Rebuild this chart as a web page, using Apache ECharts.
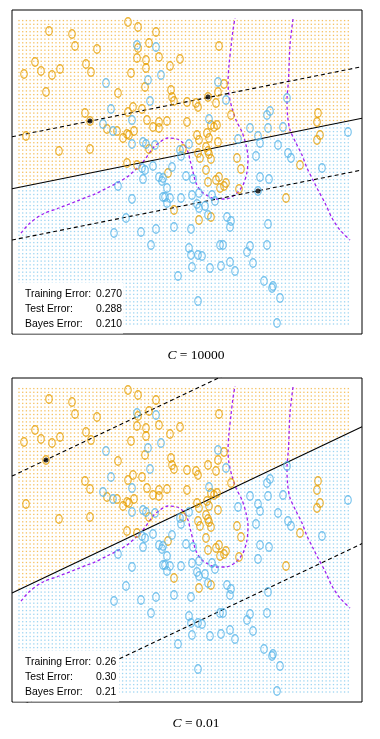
<!DOCTYPE html>
<html><head><meta charset="utf-8">
<script src="https://cdn.jsdelivr.net/npm/echarts@6/dist/echarts.min.js"></script>
<style>html,body{margin:0;padding:0;background:#fff}#c{width:380px;height:739px}</style>
</head><body><div id="c"></div>
<script>
// Training data (same in both panels), units: x 0..350, y 0..324
const orangePts = [[116,312],[126,307],[37,303],[60,300],[144,302],[63,288],[85,285],[137,291],[126,286],[125,276],
[134,274],[147,277],[168,275],[23,272],[29,263],[12,260],[40,259],[48,265],[74,270],[79,262],
[119,261],[134,266],[158,268],[34,242],[106,241],[133,247],[159,244],[160,237],[162,233],[73,221],
[121,227],[130,225],[116,222],[175,232],[207,288],[212,250],[206,242],[196,237],[184,231],[186,227],
[204,231],[219,219],[306,221],[14,198],[47,183],[78,185],[95,205],[105,203],[111,196],[115,200],
[117,199],[122,203],[135,214],[147,212],[141,207],[147,206],[155,213],[175,212],[137,185],[115,171],
[125,169],[171,185],[156,161],[162,124],[199,209],[202,207],[205,209],[185,199],[187,194],[195,201],
[197,196],[206,192],[194,187],[196,183],[186,181],[188,176],[197,180],[199,175],[225,176],[229,165],
[194,164],[196,152],[204,154],[207,157],[208,146],[212,148],[214,151],[227,145],[288,169],[305,212],
[308,199],[305,194],[274,136],[187,114],[199,117],[78,213]];
const bluePts = [[125,289],[144,287],[94,251],[136,254],[149,259],[138,233],[99,225],[206,252],[214,234],[275,236],
[258,223],[255,219],[197,215],[91,210],[101,203],[120,214],[120,190],[131,192],[134,190],[143,189],
[141,168],[130,166],[133,164],[131,155],[147,157],[151,156],[150,153],[160,167],[168,184],[169,178],
[174,158],[177,190],[155,146],[106,148],[120,135],[151,137],[153,137],[158,136],[169,136],[155,131],
[114,116],[181,155],[238,206],[256,206],[271,207],[246,198],[248,191],[226,195],[266,189],[276,181],
[279,176],[336,202],[244,178],[310,166],[248,157],[257,155],[246,143],[180,139],[187,141],[200,139],
[203,133],[185,130],[187,126],[193,128],[196,119],[215,117],[219,113],[218,107],[256,110],[102,101],
[129,102],[144,105],[162,107],[179,105],[139,89],[166,58],[177,86],[179,79],[186,79],[190,78],
[180,67],[208,89],[211,89],[238,88],[235,82],[255,89],[198,66],[209,68],[218,72],[223,63],
[241,71],[252,53],[261,48],[260,46],[268,36],[186,33],[265,11]];
// support vectors marked with black dots
const svTop = [[78,213],[196,237],[246,143]];
const svBottom = [[34,242]];
// Bayes decision boundary (two branches)
const bayesLeft = [[9,101],[18,111],[31,120],[47,126],[65,133],[75,137],[81,139],[95,146],[105,151],[115,157],
[121,162],[131,172],[141,186],[148,192],[156,196],[165,195],[171,191],[176,182],[178,174],[181,162],
[184,151],[189,143],[196,138],[204,135],[214,135],[224,140],[231,149],[235,162],[236,176],[234,189],
[230,202],[224,214],[220,226],[217,239],[216,251],[217,269],[219,287],[221,304],[223,316]];
const bayesRight = [[281,315],[278,289],[276.5,254],[275,234],[275.5,219],[278,204],[284,191],[290,179],[295,166],
[301,154],[306,144],[313,131],[320,116],[328,104],[338,94]];
// SVM boundaries and margins: [x, y] end points
const topSolid = [[0,145.3],[350,215.7]];
const topUpper = [[0,197.3],[350,267.3]];
const topLower = [[0,94],[350,164]];
const botSolid = [[0,109],[350,275.3]];
const botUpper = [[0,225.9],[350,392.1]];
const botLower = [[0,-7.9],[350,158.4]];
// texts
const cValues = ['10000', '0.01'];
const trainErr = ['0.270', '0.26'];
const testErr = ['0.288', '0.30'];
const bayesErr = ['0.210', '0.21'];

const ORANGE = '#E69F00', BLUE = '#56B4E9', PURPLE = '#A020F0';
const panels = [
  {top: 10, solid: topSolid, upper: topUpper, lower: topLower, sv: svTop, boxW: 110},
  {top: 378, solid: botSolid, upper: botUpper, lower: botLower, sv: svBottom, boxW: 106}
];
const ellipse = 'path://M0,4A3,4,0,1,1,6,4A3,4,0,1,1,0,4Z';

function gridDots(solid) {
  const o = [], b = [];
  const a0 = solid[0][1], a1 = solid[1][1];
  for (let x = 7; x <= 338.5; x += 3.7) {
    for (let y = 10; y <= 315.5; y += 3.7) {
      const yl = a0 + (a1 - a0) * x / 350;
      (y > yl ? o : b).push([x, y]);
    }
  }
  return [o, b];
}

const grids = [], xAxes = [], yAxes = [], series = [], graphics = [];
panels.forEach((p, k) => {
  grids.push({left: 12, top: p.top, width: 350, height: 324, show: true, borderColor: '#000', borderWidth: 1, backgroundColor: '#fff'});
  xAxes.push({type: 'value', gridIndex: k, min: 0, max: 350, show: false});
  yAxes.push({type: 'value', gridIndex: k, min: 0, max: 324, show: false});
  const [dO, dB] = gridDots(p.solid);
  const ax = {xAxisIndex: k, yAxisIndex: k};
  series.push(Object.assign({type: 'scatter', data: dO, symbol: 'rect', symbolSize: 1.3, itemStyle: {color: '#F2B13A'}, silent: true, large: true, largeThreshold: 500, z: 1}, ax));
  series.push(Object.assign({type: 'scatter', data: dB, symbol: 'rect', symbolSize: 1.3, itemStyle: {color: '#86CBEF'}, silent: true, large: true, largeThreshold: 500, z: 1}, ax));
  [bayesLeft, bayesRight].forEach(d => series.push(Object.assign({type: 'line', data: d, symbol: 'none', smooth: 0.3, lineStyle: {color: PURPLE, width: 1.3, type: [3, 2.5]}, z: 3}, ax)));
  series.push(Object.assign({type: 'line', data: p.solid, symbol: 'none', lineStyle: {color: '#000', width: 1.1}, z: 4}, ax));
  [p.upper, p.lower].forEach(d => series.push(Object.assign({type: 'line', data: d, symbol: 'none', lineStyle: {color: '#000', width: 1.1, type: [4, 3]}, z: 4}, ax)));
  series.push(Object.assign({type: 'scatter', data: orangePts, symbol: ellipse, symbolSize: [6.5, 8.5], itemStyle: {color: 'rgba(0,0,0,0)', borderColor: ORANGE, borderWidth: 1.3}, z: 5}, ax));
  series.push(Object.assign({type: 'scatter', data: bluePts, symbol: ellipse, symbolSize: [6.5, 8.5], itemStyle: {color: 'rgba(0,0,0,0)', borderColor: BLUE, borderWidth: 1.3}, z: 5}, ax));
  series.push(Object.assign({type: 'scatter', data: p.sv, symbol: 'circle', symbolSize: 5, itemStyle: {color: '#000'}, z: 6}, ax));

  // legend box (white background, no border) in the lower-left corner
  graphics.push({type: 'rect', z: 8, shape: {x: 13, y: p.top + 273, width: p.boxW, height: 50.5}, style: {fill: '#fff'}});
  const font = '10.4px "Liberation Sans", Arial, sans-serif';
  const rows = [['Training Error:', trainErr[k]], ['Test Error:', testErr[k]], ['Bayes Error:', bayesErr[k]]];
  rows.forEach((r, i) => {
    const yc = p.top + 284 + i * 15;
    graphics.push({type: 'text', x: 25, y: yc, z: 10, style: {text: r[0], font, fill: '#000', align: 'left', verticalAlign: 'middle', textAlign: 'left', textVerticalAlign: 'middle'}});
    graphics.push({type: 'text', x: 96, y: yc, z: 10, style: {text: r[1], font, fill: '#000', align: 'left', verticalAlign: 'middle', textAlign: 'left', textVerticalAlign: 'middle'}});
  });
  graphics.push({type: 'text', x: 196, y: p.top + 345, z: 10, style: {
    text: '{i|C} = ' + cValues[k], font: '13.5px "Liberation Serif", serif', fill: '#000',
    align: 'center', verticalAlign: 'middle', textAlign: 'center', textVerticalAlign: 'middle',
    rich: {i: {fontStyle: 'italic', fontFamily: '"Liberation Serif", serif', fontSize: 13.5}}}});
});

const chart = echarts.init(document.getElementById('c'), null, {renderer: 'canvas'});
chart.setOption({animation: false, grid: grids, xAxis: xAxes, yAxis: yAxes, series, graphic: graphics});
</script></body></html>
